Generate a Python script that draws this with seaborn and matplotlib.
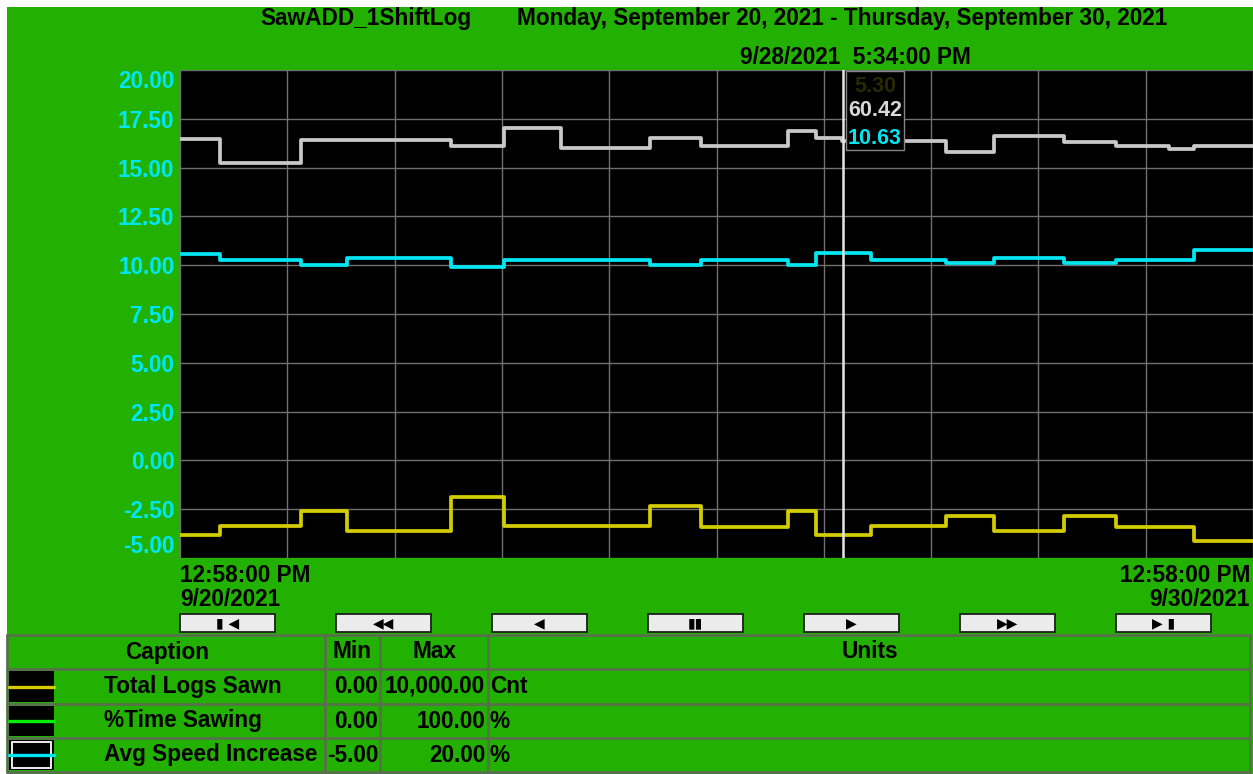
import matplotlib
matplotlib.use('Agg')
import matplotlib.pyplot as plt
import seaborn as sns
from matplotlib.patches import Rectangle

# --- data (x = days since 9/20/2021 12:58 PM) ---
step_days = [0, 0.37, 1.13, 1.56, 2.53, 3.02, 3.55, 4.38, 4.86, 5.67,
             5.93, 6.17, 6.44, 7.14, 7.59, 8.24, 8.72, 9.22, 9.45, 10.0]
time_sawing = [16.48, 15.22, 16.41, 16.41, 16.09, 17.02, 16.00, 16.51, 16.09, 16.85,
               16.51, 16.34, 16.34, 15.78, 16.60, 16.31, 16.09, 15.95, 16.09, 16.09]
speed_increase = [10.58, 10.29, 10.00, 10.38, 9.92, 10.29, 10.29, 10.00, 10.29, 10.00,
                  10.63, 10.63, 10.29, 10.09, 10.38, 10.09, 10.29, 10.29, 10.80, 10.80]
logs_sawn = [-3.81, -3.35, -2.59, -3.61, -1.85, -3.35, -3.35, -2.36, -3.39, -2.59,
             -3.81, -3.81, -3.35, -2.87, -3.61, -2.87, -3.39, -3.39, -4.12, -4.12]

y_ticks = [-5.0, -2.5, 0.0, 2.5, 5.0, 7.5, 10.0, 12.5, 15.0, 17.5, 20.0]
day_grid = [0, 1, 2, 3, 4, 5, 6, 7, 8, 9, 10]
cursor_day = 6.18
cursor_texts = ['5.30', '60.42', '10.63']

captions = ['Total Logs Sawn', '%Time Sawing', 'Avg Speed Increase']
mins = ['0.00', '0.00', '-5.00']
maxs = ['10,000.00', '100.00', '20.00']
units = ['Cnt', '%', '%']
buttons = ['\u25AE \u25C0', '\u25C0\u25C0', '\u25C0', '\u25AE\u25AE', '\u25B6', '\u25B6\u25B6', '\u25B6 \u25AE']

# --- colours ---
GREEN = '#22b100'
CYAN = '#00e6f2'
GRAY = '#c8c8c8'
YELLOW = '#d2cc00'
LINEC = '#58704c'
FS = 16.3

sns.set_style('dark')
plt.rcParams['font.family'] = ['Liberation Sans', 'DejaVu Sans']
plt.rcParams['font.weight'] = 'bold'
plt.rcParams['text.color'] = 'black'

W, H = 1253, 774
fig = plt.figure(figsize=(W / 100, H / 100), dpi=100, facecolor='white')

# background layer in pixel coordinates
bg = fig.add_axes([0, 0, 1, 1], zorder=0)
bg.set_xlim(0, W)
bg.set_ylim(H, 0)
bg.axis('off')
bg.add_patch(Rectangle((7, 7), W - 7, H - 7, facecolor=GREEN, edgecolor='none'))

# --- trend plot ---
ax = fig.add_axes([180 / W, 1 - 558 / H, 1073 / W, 488 / H], zorder=2)
ax.set_facecolor('black')
for vals, col in [(time_sawing, GRAY), (speed_increase, CYAN), (logs_sawn, YELLOW)]:
    sns.lineplot(x=step_days, y=vals, ax=ax, color=col, lw=2.7, drawstyle='steps-post')
ax.set_xlim(0, 10)
ax.set_ylim(-5, 20)
ax.set_xticks(day_grid)
ax.set_xticklabels([])
ax.set_yticks(y_ticks)
ax.set_yticklabels([f'{v:.2f}' for v in y_ticks], color=CYAN, fontsize=FS, fontweight='bold')
labs = ax.get_yticklabels()
labs[0].set_va('bottom')
labs[-1].set_va('top')
ax.tick_params(length=0, pad=4)
ax.grid(True, color='#707070', lw=1)
for s in ax.spines.values():
    s.set_visible(False)
ax.set_xlabel('')
ax.set_ylabel('')
ax.axvline(cursor_day, color='#e6e6e6', lw=1.8, zorder=5)

# overlay layer for annotations, buttons and table
top = fig.add_axes([0, 0, 1, 1], zorder=3)
top.set_xlim(0, W)
top.set_ylim(H, 0)
top.axis('off')
top.patch.set_alpha(0)

# cursor read-out box
top.add_patch(Rectangle((846, 71), 58, 79, facecolor='black', edgecolor='#858585', lw=1))
for txt, yy, col in zip(cursor_texts, [86, 111, 138], ['#2a2800', '#d8d8d8', CYAN]):
    top.text(875, yy, txt, ha='center', va='center', fontsize=15.5, fontweight='bold', color=col)

# titles
top.text(260, 19, 'SawADD_1ShiftLog', ha='left', va='center', fontsize=FS, fontweight='bold')
top.text(517, 19, 'Monday, September 20, 2021 - Thursday, September 30, 2021',
         ha='left', va='center', fontsize=FS, fontweight='bold')
top.text(740, 57, '9/28/2021  5:34:00 PM', ha='left', va='center', fontsize=FS, fontweight='bold')

# time range labels
top.text(180, 575, '12:58:00 PM', ha='left', va='center', fontsize=FS, fontweight='bold')
top.text(180, 599, '9/20/2021', ha='left', va='center', fontsize=FS, fontweight='bold')
top.text(1250, 575, '12:58:00 PM', ha='right', va='center', fontsize=FS, fontweight='bold')
top.text(1250, 599, '9/30/2021', ha='right', va='center', fontsize=FS, fontweight='bold')

# navigation buttons
for i, sym in enumerate(buttons):
    x0 = 180 + i * 156
    top.add_patch(Rectangle((x0, 614), 95, 18, facecolor='#ebebeb', edgecolor='#1e1e1e', lw=1.3))
    top.text(x0 + 47.5, 623.5, sym, ha='center', va='center', fontsize=10,
             family=['DejaVu Sans'], color='black')

# legend table
rows_y = [635, 669, 704, 738, 772]
cols_x = [7, 325, 380, 488, 1250]
for yy in rows_y:
    top.plot([7, 1250], [yy, yy], color=LINEC, lw=2)
for xx in cols_x:
    top.plot([xx, xx], [rows_y[0], rows_y[-1]], color=LINEC, lw=2)

hy = (rows_y[0] + rows_y[1]) / 2
top.text(167, hy, 'Caption', ha='center', va='center', fontsize=FS, fontweight='bold')
top.text(352, hy, 'Min', ha='center', va='center', fontsize=FS, fontweight='bold')
top.text(434, hy, 'Max', ha='center', va='center', fontsize=FS, fontweight='bold')
top.text(870, hy, 'Units', ha='center', va='center', fontsize=FS, fontweight='bold')

sw_colors = [YELLOW, '#00ee00', CYAN]
for i in range(3):
    y0, y1 = rows_y[i + 1], rows_y[i + 2]
    cy = (y0 + y1) / 2
    top.add_patch(Rectangle((9, y0 + 2), 45, y1 - y0 - 4, facecolor='black', edgecolor='none'))
    if i == 2:
        top.add_patch(Rectangle((12, y0 + 4), 39, y1 - y0 - 8, facecolor='none', edgecolor='white', lw=1.3))
    top.plot([9, 54], [cy, cy], color=sw_colors[i], lw=2.4)
    top.text(104, cy, captions[i], ha='left', va='center', fontsize=FS, fontweight='bold')
    top.text(378, cy, mins[i], ha='right', va='center', fontsize=FS, fontweight='bold')
    top.text(485, cy, maxs[i], ha='right', va='center', fontsize=FS, fontweight='bold')
    top.text(490, cy, units[i], ha='left', va='center', fontsize=FS, fontweight='bold')

fig.savefig('out.png', dpi=100, facecolor=fig.get_facecolor())
